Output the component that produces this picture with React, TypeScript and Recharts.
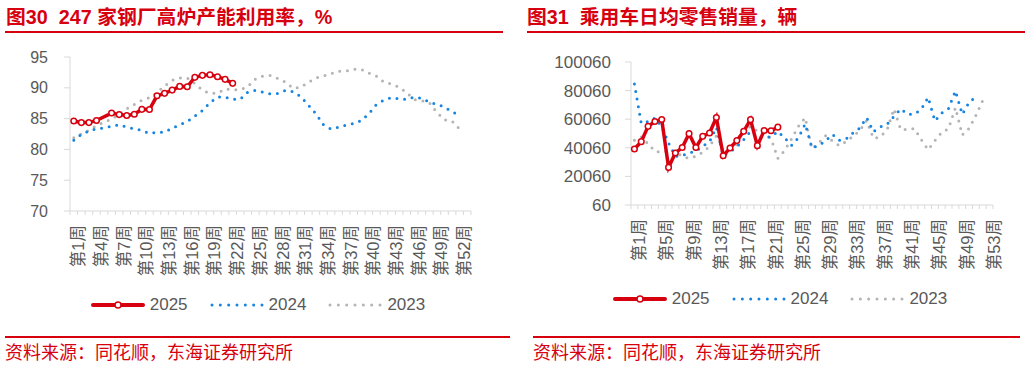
import { LineChart, Line, XAxis, YAxis, Legend } from 'recharts'

const RED = '#d7000f'
const BLUE = '#1684e0'
const GREY = '#b4b4b4'
const AXIS = '#d9d9d9'
const TEXT = '#595959'
const FONT = '"Liberation Sans", Arial, "Noto Sans CJK SC", sans-serif'

// 53 weeks on both axes
const weeks = Array.from({ length: 53 }, (_, i) => `第${i + 1}周`)

// 图30: 247 家钢厂高炉产能利用率 (%)
const furnace2025 = [
  84.6, 84.35, 84.35, 84.7, null, 85.9, 85.65, 85.5, 85.7, 86.5, 86.48, 88.7, 89.1,
  89.63, 90.23, 90.17, 91.7, 92.02, 92.13, 91.8, 91.37, 90.72,
]
const furnace2024 = [
  81.5, 82.45, 82.95, 83.35, 83.5, 83.75, 84.0, 83.6, 83.35, 83.1, 82.6, 82.75, 82.8,
  83.45, 84.0, 84.5, 85.4, 86.3, 87.6, 88.5, 88.5, 88.15, 88.15, 89.3, 89.6, 89.3,
  89.0, 89.1, 89.6, 89.35, 88.6, 87.2, 85.8, 84.0, 83.3, 83.6, 83.95, 84.2, 84.7,
  85.8, 87.3, 88.0, 88.4, 88.2, 88.1, 88.5, 88.3, 87.7, 87.3, 86.9, 86.1, 85.6,
]
const furnace2023 = [
  81.9, 82.5, 83.1, 83.9, 84.4, 84.9, 85.7, 86.6, 87.3, 88.0, 88.4, 89.2, 90.3, 91.2,
  91.6, 91.6, 90.7, 89.6, 89.1, 89.1, 89.8, 89.7, 89.7, 90.2, 91.4, 91.9, 92.0, 91.5,
  90.9, 89.9, 90.1, 90.9, 91.6, 91.9, 92.3, 92.7, 92.7, 93.0, 93.0, 92.4, 91.9, 90.9,
  90.6, 90.1, 89.2, 88.1, 87.9, 87.6, 86.0, 84.8, 84.6, 83.3,
]
const furnaceTicks = [70, 75, 80, 85, 90, 95]

// 图31: 乘用车日均零售销量 (辆)
const cars2025 = [
  39250, 44360, 55060, 58450, 59900, 26370, 36450, 40260, 49960, 40260, 48070, 50450,
  61250, 34450, 39950, 45100, 51560, 59760, 41560, 52160, 51950, 54500,
]
const cars2024 = [
  84760, 57170, 58350, 60900, 55060, 43450, 34070, 34560, 36450, 37850, 41070, 44360,
  54360, 34560, 37360, 40650, 45760, 51560, 47650, 47650, 47650, 51560, 46950, 41770,
  46950, 56740, 39950, 41560, 45060, 49470, 45270, 46250, 50450, 53940, 61150, 51300,
  54650, 56450, 62050, 67240, 63460, 63740, 66960, 75360, 58850, 64440, 67660, 79840,
  63460, 71860, 75850,
]
const cars2023 = [
  45270, 47650, 42960, 37570, 36870, 38270, 37360, 34070, 32670, 34070, 36870, 41070,
  48560, 38760, 39250, 42260, 52260, 55000, 51560, 49960, 46670, 32670, 38270, 46250,
  55060, 61150, 39250, 43450, 48560, 44850, 41560, 44360, 48070, 52260, 59060, 46600,
  47650, 52760, 67240, 52760, 52970, 53450, 45760, 38760, 45060, 50870, 53450, 68150,
  49050, 53660, 62760, 73260,
]
const carTicks = [60, 20060, 40060, 60060, 80060, 100060]

const seriesNames = ['2025', '2024', '2023']
const seriesColors = [RED, BLUE, GREY]

function buildRows(a: (number | null)[], b: number[], c: number[]) {
  return weeks.map((w, i) => ({
    week: w,
    y2025: i < a.length ? a[i] : null,
    y2024: i < b.length ? b[i] : null,
    y2023: i < c.length ? c[i] : null,
  }))
}

const furnaceRows = buildRows(furnace2025, furnace2024, furnace2023)
const carRows = buildRows(cars2025, cars2024, cars2023)

function WeekTick(props: any) {
  const { x, y, payload, index, every, band } = props
  const tx = x + 4.5
  const ty = y + 14
  return (
    <g>
      <line x1={x - band / 2} x2={x - band / 2} y1={y} y2={y + 4} stroke={AXIS} />
      {index === weeks.length - 1 && (
        <line x1={x + band / 2} x2={x + band / 2} y1={y} y2={y + 4} stroke={AXIS} />
      )}
      {index % every === 0 && (
        <text
          x={tx}
          y={ty}
          transform={`rotate(-90 ${tx} ${ty})`}
          textAnchor="end"
          dominantBaseline="central"
          fill={TEXT}
          fontSize={16.5}
        >
          {payload.value}
        </text>
      )}
    </g>
  )
}

function LegendRow() {
  return (
    <div
      style={{
        display: 'flex',
        justifyContent: 'center',
        alignItems: 'center',
        height: 30,
        gap: 22,
        fontSize: 17,
        color: TEXT,
      }}
    >
      {seriesNames.map((name, i) => (
        <div key={name} style={{ display: 'flex', alignItems: 'center' }}>
          <svg width={54} height={12}>
            {i === 0 ? (
              <>
                <line x1={2} x2={52} y1={6} y2={6} stroke={seriesColors[i]} strokeWidth={4} strokeLinecap="round" />
                <circle cx={27} cy={6} r={3} fill="#fff" stroke={seriesColors[i]} strokeWidth={1.5} />
              </>
            ) : (
              <line
                x1={2}
                x2={52}
                y1={6}
                y2={6}
                stroke={seriesColors[i]}
                strokeWidth={3}
                strokeDasharray="0 8.33"
                strokeLinecap="round"
              />
            )}
          </svg>
          <span style={{ marginLeft: 5 }}>{name}</span>
        </div>
      ))}
    </div>
  )
}

interface PanelProps {
  rows: any[]
  domain: [number, number]
  ticks: number[]
  yWidth: number
  margin: { top: number; right: number; bottom: number; left: number }
  every: number
  tickFont: number
  tickMargin: number
  legendLeft: number
}

function Panel({ rows, domain, ticks, yWidth, margin, every, tickFont, tickMargin, legendLeft }: PanelProps) {
  const plotWidth = 516 - margin.left - margin.right - yWidth
  const band = plotWidth / weeks.length
  return (
    <LineChart width={516} height={330} data={rows} margin={margin}>
      <XAxis
        dataKey="week"
        scale="band"
        interval={0}
        height={79}
        tickSize={0}
        tickMargin={0}
        axisLine={{ stroke: AXIS }}
        tickLine={false}
        tick={<WeekTick every={every} band={band} />}
      />
      <YAxis
        domain={domain}
        ticks={ticks}
        width={yWidth}
        axisLine={{ stroke: AXIS }}
        tickLine={{ stroke: AXIS }}
        tickSize={6}
        tickMargin={tickMargin}
        tick={{ fill: TEXT, fontSize: tickFont }}
        interval={0}
      />
      <Legend
        verticalAlign="bottom"
        content={<LegendRow />}
        wrapperStyle={{ left: legendLeft, width: 516, height: 30 }}
      />
      <Line
        dataKey="y2023"
        name="2023"
        stroke={GREY}
        strokeWidth={3}
        strokeDasharray="0 7.7"
        strokeLinecap="round"
        dot={false}
        activeDot={false}
        isAnimationActive={false}
      />
      <Line
        dataKey="y2024"
        name="2024"
        stroke={BLUE}
        strokeWidth={3}
        strokeDasharray="0 7.7"
        strokeLinecap="round"
        dot={false}
        activeDot={false}
        isAnimationActive={false}
      />
      <Line
        dataKey="y2025"
        name="2025"
        stroke={RED}
        strokeWidth={3.5}
        connectNulls
        dot={{ r: 2.8, fill: '#fff', stroke: RED, strokeWidth: 1.5 }}
        activeDot={false}
        isAnimationActive={false}
      />
    </LineChart>
  )
}

const titleStyle = {
  position: 'absolute' as const,
  top: 5,
  color: RED,
  fontWeight: 'bold' as const,
  fontSize: 19.8,
  whiteSpace: 'pre' as const,
  lineHeight: '24px',
}

const footStyle = {
  position: 'absolute' as const,
  top: 342,
  color: RED,
  fontSize: 18,
  lineHeight: '22px',
}

function Rule({ left, top, width }: { left: number; top: number; width: number }) {
  return <div style={{ position: 'absolute', left, top, width, height: 2, background: RED }} />
}

export default function App() {
  return (
    <div
      style={{
        position: 'absolute',
        left: 0,
        top: 0,
        width: 1032,
        height: 366,
        background: '#fff',
        fontFamily: FONT,
        overflow: 'hidden',
      }}
    >
      <div style={{ ...titleStyle, left: 6 }}>{'图30  247 家钢厂高炉产能利用率，%'}</div>
      <div style={{ ...titleStyle, left: 527 }}>{'图31  乘用车日均零售销量，辆'}</div>
      <Rule left={5} top={31} width={498} />
      <Rule left={527} top={31} width={498} />

      <div style={{ position: 'absolute', left: 0, top: 0 }}>
        <Panel
          rows={furnaceRows}
          domain={[70, 95]}
          ticks={furnaceTicks}
          yWidth={70}
          margin={{ top: 57, right: 45, bottom: 10, left: 0 }}
          every={3}
          tickFont={16}
          tickMargin={16}
          legendLeft={0}
        />
      </div>
      <div style={{ position: 'absolute', left: 516, top: 0 }}>
        <Panel
          rows={carRows}
          domain={[60, 100060]}
          ticks={carTicks}
          yWidth={115}
          margin={{ top: 62, right: 39, bottom: 16, left: 0 }}
          every={4}
          tickFont={17}
          tickMargin={14}
          legendLeft={6}
        />
      </div>

      <Rule left={5} top={336} width={505} />
      <Rule left={533} top={336} width={487} />
      <div style={{ ...footStyle, left: 5 }}>资料来源：同花顺，东海证券研究所</div>
      <div style={{ ...footStyle, left: 533 }}>资料来源：同花顺，东海证券研究所</div>
    </div>
  )
}
